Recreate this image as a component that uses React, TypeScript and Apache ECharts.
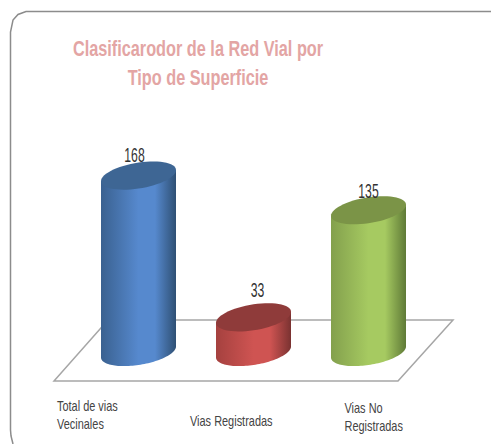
import React, { useEffect, useRef } from "react";
import * as echarts from "echarts";

const titleLines = ["Clasificarodor de la Red Vial por", "Tipo de Superficie"];
const categories = ["Total de vias\nVecinales", "Vias Registradas", "Vias No\nRegistradas"];
const values = [168, 33, 135];

const labelOffsets = [[-81.5, 63], [-63.5, 69], [-24, 65]];
const valueOffsets = [[-4, -20], [4, -27], [0, -19]];
const palettes = [
  { top: "#3E6694", edge: "#3A6190", mid: "#5689CE", dark: "#2F5074" },
  { top: "#8F3B3A", edge: "#A5413F", mid: "#CF5452", dark: "#7A3231" },
  { top: "#7B9447", edge: "#83A04D", mid: "#A6CA61", dark: "#5F7A37" },
];

const RX = 37.5;
const RY = 13;
const SKEW = 5.5;

function ellipsePoint(cx: number, cy: number, t: number) {
  return [cx + RX * Math.cos(t), cy + RY * Math.sin(t) - SKEW * Math.cos(t)];
}

function renderCylinder(params: any, api: any) {
  const i = params.dataIndex;
  const [cx, cy0] = api.coord([i, 0]);
  const [, cy1] = api.coord([i, api.value(1)]);
  const pal = palettes[i];
  const top: number[][] = [];
  const body: number[][] = [];
  const N = 60;
  for (let k = 0; k < N; k++) top.push(ellipsePoint(cx, cy1, (k / N) * Math.PI * 2));
  body.push(ellipsePoint(cx, cy1, Math.PI));
  body.push(ellipsePoint(cx, cy1, 0));
  for (let k = 0; k <= N; k++) body.push(ellipsePoint(cx, cy0, (k / N) * Math.PI));
  const grad = new echarts.graphic.LinearGradient(0, 0, 1, 0, [
    { offset: 0, color: pal.edge },
    { offset: 0.5, color: pal.mid },
    { offset: 0.72, color: pal.mid },
    { offset: 1, color: pal.dark },
  ]);
  const off = labelOffsets[i];
  const vOff = valueOffsets[i];
  return {
    type: "group",
    children: [
      { type: "polygon", shape: { points: body }, style: { fill: grad } },
      { type: "polygon", shape: { points: top }, style: { fill: pal.top } },
      {
        type: "text",
        x: cx + vOff[0],
        y: cy1 + vOff[1],
        scaleX: 0.61,
        style: {
          text: String(api.value(1)),
          fill: "#333333",
          font: "20px 'Liberation Sans'",
          align: "center",
          verticalAlign: "middle",
        },
      },
      {
        type: "text",
        x: cx + off[0],
        y: cy0 + off[1],
        scaleX: 0.73,
        style: {
          text: categories[i],
          fill: "#444444",
          font: "15px 'Liberation Sans'",
          lineHeight: 18,
          align: "left",
          verticalAlign: "middle",
        },
      },
    ],
  };
}

export default function App() {
  const ref = useRef<HTMLDivElement>(null);
  useEffect(() => {
    document.body.style.margin = "0";
    const chart = echarts.init(ref.current!, undefined, { renderer: "svg" });
    chart.setOption({
      animation: false,
      backgroundColor: "#ffffff",
      grid: { left: 81, width: 345, top: 142, height: 210 },
      xAxis: { type: "category", data: categories, show: false },
      yAxis: { type: "value", min: 0, max: 200, show: false },
      graphic: [
        {
          type: "polygon",
          z: 0,
          shape: { points: [[54, 381], [398, 381], [453, 320], [108, 320]] },
          style: { fill: "#ffffff", stroke: "#A6A6A6", lineWidth: 1.5 },
        },
        {
          type: "text",
          x: 198,
          y: 48,
          scaleX: 0.74,
          style: {
            text: titleLines[0],
            fill: "#E3A5A4",
            font: "bold 22px 'Liberation Sans'",
            align: "center",
            verticalAlign: "middle",
          },
        },
        {
          type: "text",
          x: 198,
          y: 77,
          scaleX: 0.74,
          style: {
            text: titleLines[1],
            fill: "#E3A5A4",
            font: "bold 22px 'Liberation Sans'",
            align: "center",
            verticalAlign: "middle",
          },
        },
        {
          type: "polyline",
          z: 0,
          shape: {
            points: [[13, 444], [11, 436], [10.5, 430], [10.5, 32], [13, 20], [18, 14.5], [26, 11.5], [491, 11.5]],
          },
          style: { fill: "none", stroke: "#8C8C8C", lineWidth: 1.5 },
        },
      ],
      series: [
        {
          type: "custom",
          z: 5,
          clip: false,
          renderItem: renderCylinder,
          encode: { x: 0, y: 1 },
          data: values.map((v, i) => [i, v]),
        },
      ],
    });
    return () => chart.dispose();
  }, []);
  return <div ref={ref} style={{ width: 491, height: 444 }} />;
}
